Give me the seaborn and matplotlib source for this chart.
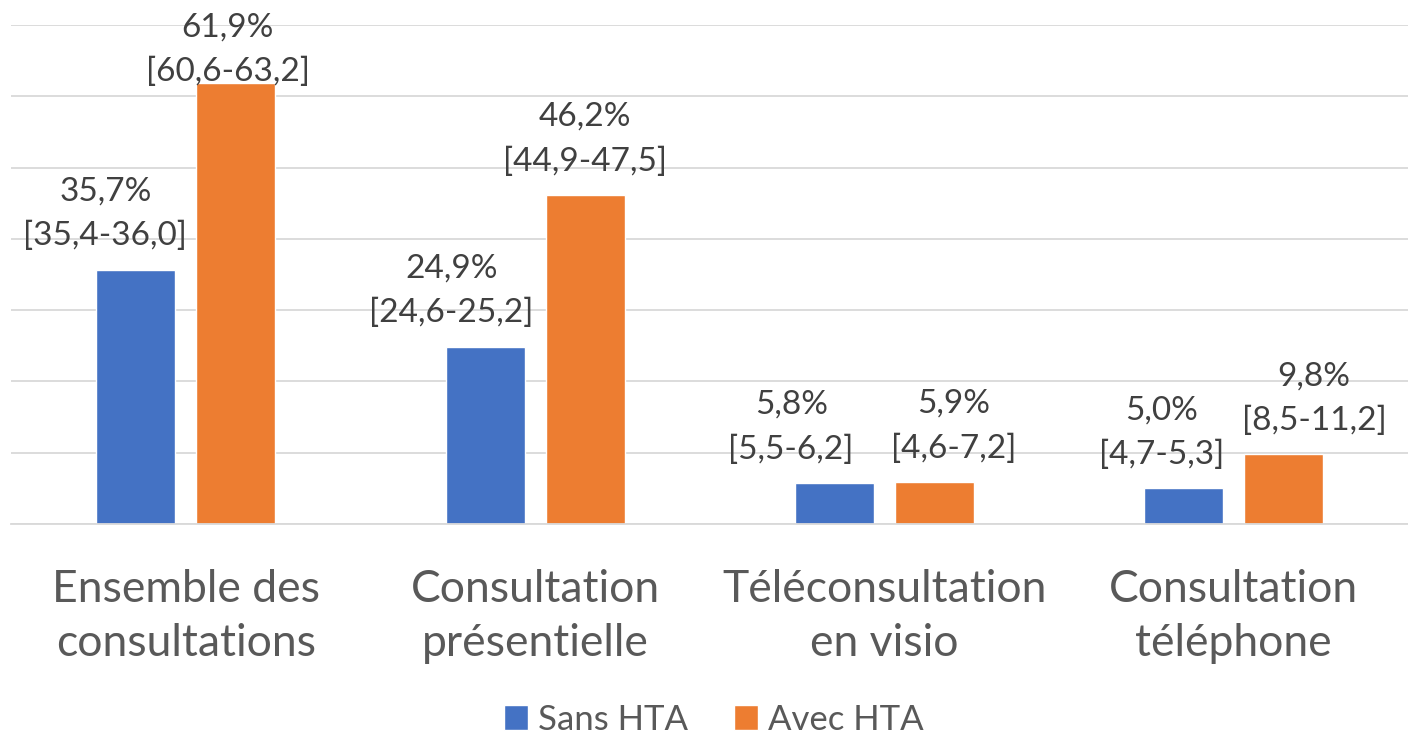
import matplotlib
matplotlib.use("Agg")
import matplotlib.pyplot as plt
import seaborn as sns
import pandas as pd

categories = ["Ensemble des\nconsultations", "Consultation\nprésentielle",
              "Téléconsultation\nen visio", "Consultation\ntéléphone"]
groups = ["Sans HTA", "Avec HTA"]
sans_hta = [35.7, 24.9, 5.8, 5.0]
avec_hta = [61.9, 46.2, 5.9, 9.8]
sans_ci = ["[35,4-36,0]", "[24,6-25,2]", "[5,5-6,2]", "[4,7-5,3]"]
avec_ci = ["[60,6-63,2]", "[44,9-47,5]", "[4,6-7,2]", "[8,5-11,2]"]

# label nudges (points) so neighbouring labels don't collide, as in the original
sans_dx = [-22, -24, -31, -16]
avec_dx = [-6, 0, 14, 22]
sans_dy = [13, 13, 13, 13]
avec_dy = [-3, 13, 13, 13]

df = pd.DataFrame({
    "cat": categories * 2,
    "grp": [groups[0]] * 4 + [groups[1]] * 4,
    "val": sans_hta + avec_hta,
})

sns.set_style("white")
plt.rcParams["font.family"] = ["Lato", "DejaVu Sans"]

fig = plt.figure(figsize=(14.08, 7.38), dpi=100)
ax = fig.add_axes([0.008, 0.29, 0.992, 0.676])

palette = {"Sans HTA": "#4472C4", "Avec HTA": "#ED7D31"}
sns.barplot(data=df, x="cat", y="val", hue="grp", palette=palette,
            width=0.573, gap=0.21, saturation=1, ax=ax, legend=True)

ax.set_ylim(0, 70)
ax.set_xlim(-0.5, 3.5)
ax.set_yticks(range(0, 71, 10))
ax.yaxis.grid(True, color="#D9D9D9", linewidth=1.3)
ax.set_axisbelow(True)
ax.tick_params(axis="y", left=False, labelleft=False)
ax.tick_params(axis="x", bottom=False, pad=29, labelsize=32, colors="#595959")
for lab in ax.get_xticklabels():
    lab.set_linespacing(1.4)
for s in ["top", "right", "left"]:
    ax.spines[s].set_visible(False)
ax.spines["bottom"].set_color("#D9D9D9")
ax.spines["bottom"].set_linewidth(1.3)
ax.set_xlabel("")
ax.set_ylabel("")

# data labels
for cont, vals, cis, dxs, dys in zip(ax.containers, [sans_hta, avec_hta],
                                     [sans_ci, avec_ci], [sans_dx, avec_dx],
                                     [sans_dy, avec_dy]):
    for bar, v, ci, dx, dy in zip(cont, vals, cis, dxs, dys):
        x = bar.get_x() + bar.get_width() / 2
        txt = f"{v:.1f}%".replace(".", ",") + "\n" + ci
        ax.annotate(txt, (x, bar.get_height()), xytext=(dx, dy),
                    textcoords="offset points", ha="center", va="bottom",
                    fontsize=24, color="#404040", linespacing=1.6,
                    annotation_clip=False)

handles, labels = ax.get_legend_handles_labels()
ax.get_legend().remove()
fig.legend(handles, labels, loc="center", bbox_to_anchor=(0.507, 0.025),
           ncol=2, frameon=False, fontsize=25, handlelength=0.7, handleheight=0.7,
           handletextpad=0.3, columnspacing=1.3, labelcolor="#595959")

fig.savefig("out.png", dpi=100)
